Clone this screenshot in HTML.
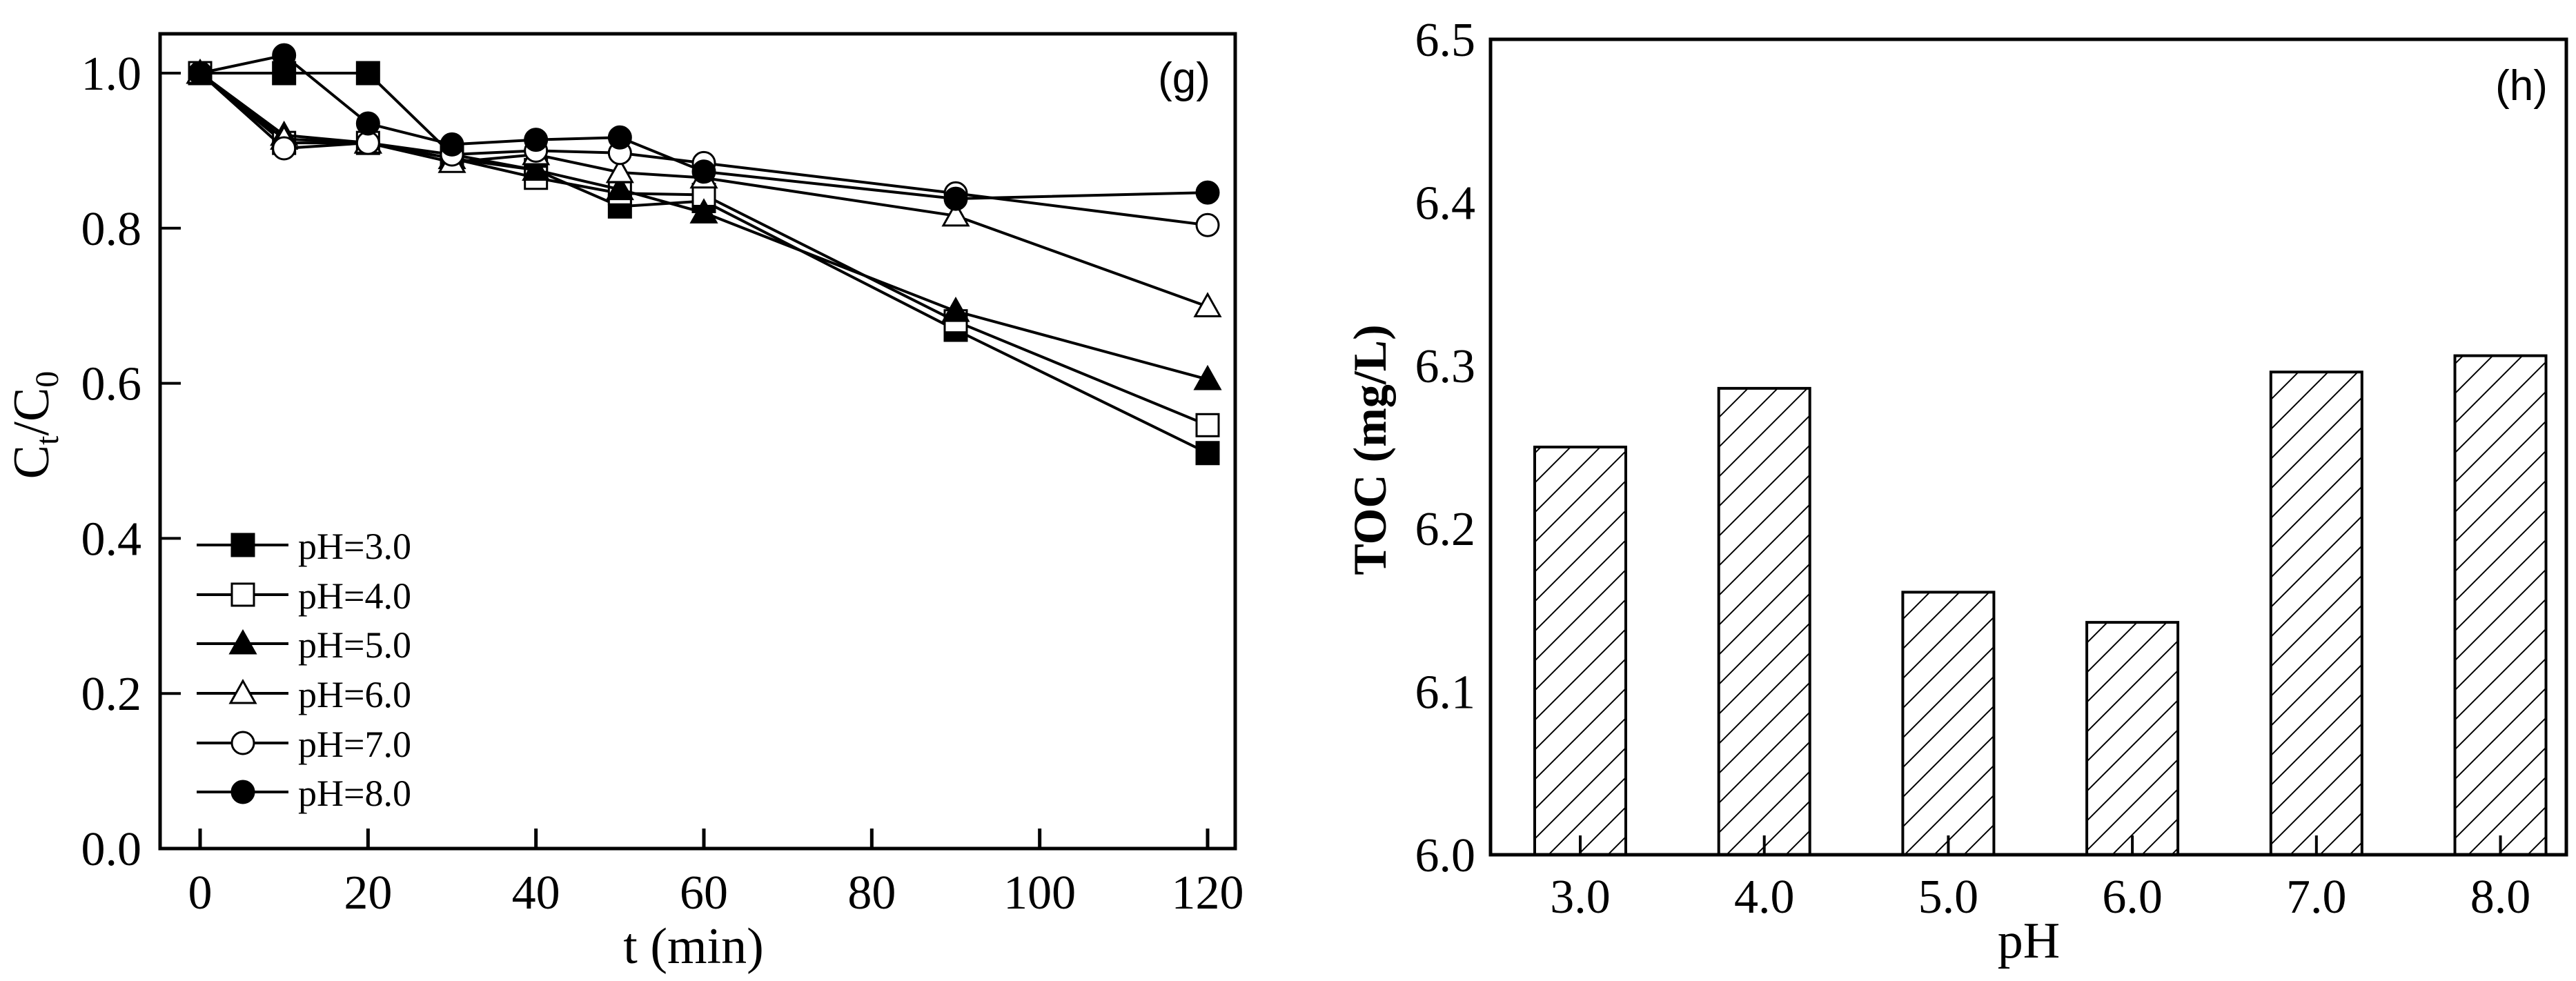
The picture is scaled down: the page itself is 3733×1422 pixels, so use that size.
<!DOCTYPE html>
<html><head><meta charset="utf-8">
<style>
html,body{margin:0;padding:0;background:#fff;}
svg{display:block;font-family:"Liberation Serif",serif;}
</style></head>
<body>
<svg id="fig" width="3733" height="1422" viewBox="0 0 3733 1422" xmlns="http://www.w3.org/2000/svg">
<defs>
<pattern id="hatch" patternUnits="userSpaceOnUse" width="43" height="43">
<path d="M-5,48 L48,-5 M-5,5 L5,-5 M38,48 L48,38" stroke="#000" stroke-width="2" fill="none"/>
</pattern>
</defs>
<g id="left"></g>
<g id="right"></g>
</svg>
<script>
// ---- chart (g) data ----
const times = [0, 10, 20, 30, 40, 50, 60, 90, 120];
const seriesNames = ["pH=3.0", "pH=4.0", "pH=5.0", "pH=6.0", "pH=7.0", "pH=8.0"];
const ph3 = [1.0, 1.0, 1.0, 0.895, 0.875, 0.828, 0.835, 0.669, 0.51];
const ph4 = [1.0, 0.91, 0.91, 0.89, 0.865, 0.845, 0.843, 0.68, 0.546];
const ph5 = [1.0, 0.92, 0.91, 0.89, 0.875, 0.85, 0.82, 0.693, 0.605];
const ph6 = [1.0, 0.915, 0.91, 0.885, 0.895, 0.872, 0.865, 0.816, 0.699];
const ph7 = [1.0, 0.903, 0.91, 0.895, 0.9, 0.897, 0.884, 0.845, 0.804];
const ph8 = [1.0, 1.023, 0.935, 0.908, 0.914, 0.917, 0.873, 0.838, 0.846];
const xTicksG = [0, 20, 40, 60, 80, 100, 120];
const yTicksG = [0.0, 0.2, 0.4, 0.6, 0.8, 1.0];
const markerTypes = ["sq-f", "sq-o", "tri-f", "tri-o", "cir-o", "cir-f"];
// ---- chart (h) data ----
const phCats = ["3.0", "4.0", "5.0", "6.0", "7.0", "8.0"];
const tocVals = [6.25, 6.286, 6.161, 6.1425, 6.296, 6.306];
const yTicksH = [6.0, 6.1, 6.2, 6.3, 6.4, 6.5];

const NS = "http://www.w3.org/2000/svg";
function mk(parent, tag, attrs, text) {
  const e = document.createElementNS(NS, tag);
  for (const k in attrs) e.setAttribute(k, attrs[k]);
  if (text !== undefined) e.textContent = text;
  parent.appendChild(e);
  return e;
}

// ===== Chart g =====
const G = document.getElementById('left');
const gx0 = 232, gx1 = 1790, gy0 = 49, gy1 = 1230;
const xs = v => 290 + v * (1750 - 290) / 120;
const ys = v => 1230 - v * (1230 - 106);

function marker(parent, type, cx, cy, name) {
  let e;
  const s = 16;
  if (type.startsWith("sq")) {
    e = mk(parent, 'rect', {x: cx - s, y: cy - s, width: 2 * s, height: 2 * s});
  } else if (type.startsWith("tri")) {
    e = mk(parent, 'polygon', {points: `${cx},${cy - 18} ${cx - 18},${cy + 14} ${cx + 18},${cy + 14}`});
  } else {
    e = mk(parent, 'circle', {cx: cx, cy: cy, r: 16});
  }
  const filled = type.endsWith("-f");
  e.setAttribute('fill', filled ? '#000' : '#fff');
  e.setAttribute('stroke', '#000');
  e.setAttribute('stroke-width', '3');
  
  
  return e;
}

const allSeries = [ph3, ph4, ph5, ph6, ph7, ph8];
allSeries.forEach((vals, si) => {
  const g = mk(G, 'g', {});
  
  
  const pts = vals.map((v, i) => xs(times[i]) + ',' + ys(v)).join(' ');
  const pl = mk(g, 'polyline', {points: pts, fill: 'none', stroke: '#000', 'stroke-width': 4});
  
  
  vals.forEach((v, i) => marker(g, markerTypes[si], xs(times[i]), ys(v), 'data-point'));
});

const gb = mk(G, 'rect', {x: gx0, y: gy0, width: gx1 - gx0, height: gy1 - gy0, fill: 'none', stroke: '#000', 'stroke-width': 5});


xTicksG.forEach(t => {
  const l = mk(G, 'line', {x1: xs(t), x2: xs(t), y1: gy1, y2: gy1 - 29, stroke: '#000', 'stroke-width': 5});
  
  
  const tx = mk(G, 'text', {x: xs(t), y: 1317, 'font-size': 70, 'text-anchor': 'middle'}, String(t));
  
  
});
yTicksG.forEach(t => {
  const l = mk(G, 'line', {x1: gx0, x2: gx0 + 30, y1: ys(t), y2: ys(t), stroke: '#000', 'stroke-width': 4});
  
  
  const tx = mk(G, 'text', {x: 205, y: ys(t) + 24, 'font-size': 70, 'text-anchor': 'end'}, t.toFixed(1));
  
  
});
const xt = mk(G, 'text', {x: 1005, y: 1396, 'font-size': 74, 'text-anchor': 'middle'}, 't (min)');


const yt = mk(G, 'text', {x: 0, y: 0, 'font-size': 74, 'text-anchor': 'middle', transform: 'translate(70,616) rotate(-90)'});


yt.innerHTML = 'C<tspan font-size="48" dy="14">t</tspan><tspan dy="-14">/C</tspan><tspan font-size="48" dy="14">0</tspan>';
const pg = mk(G, 'text', {x: 1716, y: 134, 'font-size': 62, 'text-anchor': 'middle', 'font-family': 'Liberation Sans, sans-serif'}, '(g)');



const legY = [790, 862, 933, 1005, 1077, 1148];
seriesNames.forEach((n, i) => {
  const g = mk(G, 'g', {});
  
  
  mk(g, 'line', {x1: 285, x2: 418, y1: legY[i], y2: legY[i], stroke: '#000', 'stroke-width': 4});
  marker(g, markerTypes[i], 352, legY[i], 'legend-marker');
  const t = mk(g, 'text', {x: 432, y: legY[i] + 20, 'font-size': 54}, n);
  
  
});

// ===== Chart h =====
const H = document.getElementById('right');
const hx0 = 2160, hx1 = 3719, hy0 = 57, hy1 = 1239;
const hx = i => 2290 + i * 266.7;
const hy = v => 1239 - (v - 6.0) * (1239 - 57) / 0.5;
const barW = 132;
tocVals.forEach((v, i) => {
  const r = mk(H, 'rect', {x: hx(i) - barW / 2, y: hy(v), width: barW, height: hy1 - hy(v), fill: 'url(#hatch)', stroke: '#000', 'stroke-width': 4});
  
  
});
const hb = mk(H, 'rect', {x: hx0, y: hy0, width: hx1 - hx0, height: hy1 - hy0, fill: 'none', stroke: '#000', 'stroke-width': 5});


phCats.forEach((c, i) => {
  const l = mk(H, 'line', {x1: hx(i), x2: hx(i), y1: hy1, y2: hy1 - 28, stroke: '#000', 'stroke-width': 4});
  
  
  const t = mk(H, 'text', {x: hx(i), y: 1323, 'font-size': 70, 'text-anchor': 'middle'}, c);
  
  
});
yTicksH.forEach(v => {
  const t = mk(H, 'text', {x: 2138, y: hy(v) + 24, 'font-size': 70, 'text-anchor': 'end'}, v.toFixed(1));
  
  
});
const hxt = mk(H, 'text', {x: 2940, y: 1388, 'font-size': 74, 'text-anchor': 'middle'}, 'pH');


const hyt = mk(H, 'text', {x: 0, y: 0, 'font-size': 68, 'font-weight': 'bold', 'text-anchor': 'middle', transform: 'translate(2008,652) rotate(-90)'}, 'TOC (mg/L)');


const ph = mk(H, 'text', {x: 3654, y: 145, 'font-size': 62, 'text-anchor': 'middle', 'font-family': 'Liberation Sans, sans-serif'}, '(h)');


</script>
</body></html>
